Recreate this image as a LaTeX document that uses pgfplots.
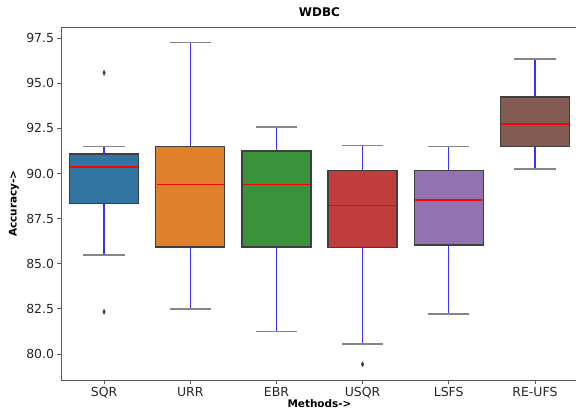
\documentclass[border=0pt]{standalone}
\usepackage{pgfplots}
\pgfplotsset{compat=1.18}
\usepackage{fontspec}
\setmainfont{DejaVu Sans}
\definecolor{c1}{HTML}{3274A1}
\definecolor{c2}{HTML}{E1812C}
\definecolor{c3}{HTML}{3A923A}
\definecolor{c4}{HTML}{C03D3E}
\definecolor{c5}{HTML}{9372B2}
\definecolor{c6}{HTML}{845B53}
\definecolor{boxedge}{HTML}{3F3F3F}
\definecolor{capcol}{HTML}{858585}
\definecolor{spine}{HTML}{5A5A5A}
\definecolor{whisk}{HTML}{3333FF}
\begin{document}
\begin{tikzpicture}
\begin{axis}[
  at={(61bp,32bp)}, anchor=south west,
  scale only axis, width=517bp, height=353bp,
  xmin=-0.5, xmax=5.5, ymin=78.56, ymax=98.12,
  unbounded coords=jump,
  xtick={0,1,2,3,4,5},
  xticklabels={SQR,URR,EBR,USQR,LSFS,RE-UFS},
  ytick={80,82.5,85,87.5,90,92.5,95,97.5},
  yticklabel style={/pgf/number format/fixed, /pgf/number format/fixed zerofill, /pgf/number format/precision=1, font=\fontsize{12.5}{14}\selectfont, color=black!85},
  xticklabel style={font=\fontsize{12.5}{14}\selectfont, color=black!85},
  /pgf/number format/assume math mode=true,
  tick align=outside, major tick length=3.5bp,
  xtick pos=bottom, ytick pos=left,
  tick style={spine, line width=0.8bp},
  axis line style={spine, line width=0.9bp},
  title={WDBC},
  title style={at={(axis description cs:0.5,1.013)}, anchor=base, inner sep=0pt, font=\bfseries\fontsize{12}{14}\selectfont},
  xlabel={Methods->},
  xlabel style={at={(axis description cs:0.5,-0.0793)}, anchor=base, inner sep=0pt, font=\bfseries\fontsize{10.5}{12}\selectfont},
  ylabel={Accuracy->},
  ylabel style={at={(axis description cs:-0.0812,0.5)}, anchor=south, inner sep=0pt, font=\bfseries\fontsize{10.5}{12}\selectfont},
]
% whiskers (quartile to whisker end)
\addplot[whisk, line width=1.2bp] coordinates {
  (0,85.48) (0,88.35) (0,nan) (0,91.08) (0,91.49) (0,nan)
  (1,82.49) (1,85.93) (1,nan) (1,91.49) (1,97.25) (1,nan)
  (2,81.24) (2,85.93) (2,nan) (2,91.25) (2,92.59) (2,nan)
  (3,80.55) (3,85.89) (3,nan) (3,90.16) (3,91.56) (3,nan)
  (4,82.23) (4,86.04) (4,nan) (4,90.16) (4,91.49) (4,nan)
  (5,90.25) (5,91.49) (5,nan) (5,94.24) (5,96.36)
};
% boxes (lower quartile to upper quartile)
\addplot[fill=c1, draw=boxedge, line width=1.4bp] coordinates {(-0.4,88.35) (0.4,88.35) (0.4,91.08) (-0.4,91.08)} -- cycle;
\addplot[fill=c2, draw=boxedge, line width=1.4bp] coordinates {(0.6,85.93) (1.4,85.93) (1.4,91.49) (0.6,91.49)} -- cycle;
\addplot[fill=c3, draw=boxedge, line width=1.4bp] coordinates {(1.6,85.93) (2.4,85.93) (2.4,91.25) (1.6,91.25)} -- cycle;
\addplot[fill=c4, draw=boxedge, line width=1.4bp] coordinates {(2.6,85.89) (3.4,85.89) (3.4,90.16) (2.6,90.16)} -- cycle;
\addplot[fill=c5, draw=boxedge, line width=1.4bp] coordinates {(3.6,86.04) (4.4,86.04) (4.4,90.16) (3.6,90.16)} -- cycle;
\addplot[fill=c6, draw=boxedge, line width=1.4bp] coordinates {(4.6,91.49) (5.4,91.49) (5.4,94.24) (4.6,94.24)} -- cycle;
% medians
\addplot[red, line width=1.2bp] coordinates {
  (-0.39,90.36) (0.39,90.36) (0,nan)
  (0.61,89.40) (1.39,89.40) (1,nan)
  (1.61,89.40) (2.39,89.40) (2,nan)
  (2.61,88.25) (3.39,88.25) (3,nan)
  (3.61,88.53) (4.39,88.53) (4,nan)
  (4.61,92.74) (5.39,92.74)
};
% caps
\addplot[capcol, line width=1.5bp] coordinates {
  (-0.24,85.48) (0.24,85.48) (0,nan) (-0.24,91.49) (0.24,91.49) (0,nan)
  (0.76,82.49) (1.24,82.49) (1,nan) (0.76,97.25) (1.24,97.25) (1,nan)
  (1.76,81.24) (2.24,81.24) (2,nan) (1.76,92.59) (2.24,92.59) (2,nan)
  (2.76,80.55) (3.24,80.55) (3,nan) (2.76,91.56) (3.24,91.56) (3,nan)
  (3.76,82.23) (4.24,82.23) (4,nan) (3.76,91.49) (4.24,91.49) (4,nan)
  (4.76,90.25) (5.24,90.25) (5,nan) (4.76,96.36) (5.24,96.36)
};
% outliers
\addplot[only marks, mark=diamond*, mark size=2.6bp, mark options={xscale=0.65, fill=boxedge, draw=boxedge}] coordinates {
  (0,95.58) (0,82.34) (3,79.43)
};
\end{axis}
\pgfresetboundingbox
\useasboundingbox (0,0) rectangle (576bp,412bp);
\end{tikzpicture}
\end{document}
